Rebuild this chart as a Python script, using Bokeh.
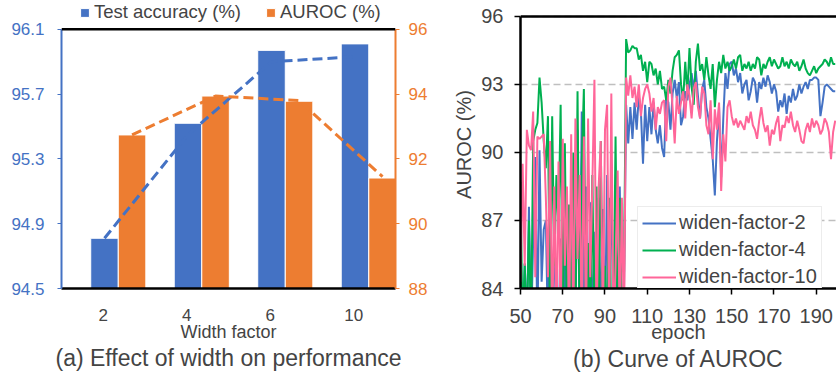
from bokeh.plotting import figure
from bokeh.models import (Range1d, LinearAxis, CategoricalAxis, Legend, LegendItem, FixedTicker,
                          PrintfTickFormatter, ColumnDataSource, Span)
from bokeh.transform import dodge
from bokeh.layouts import row
from bokeh.embed import file_html
from bokeh.resources import INLINE

FONT = "Liberation Sans"
BLUE = "#4472C4"
ORANGE = "#ED7D31"
GREEN = "#00B050"
PINK = "#FF6699"

# ---------------- data: panel (a) ----------------
width_factors = ["2", "4", "6", "10"]
test_accuracy = [94.81, 95.52, 95.97, 96.01]
auroc_bars = [92.74, 93.94, 93.78, 91.41]
acc_trend = [94.81, 95.45, 95.90, 95.93]
auroc_trend = [92.74, 93.94, 93.80, 91.45]
acc_ticks = [94.5, 94.9, 95.3, 95.7, 96.1]
auroc_ticks = [88, 90, 92, 94, 96]

# ---------------- data: panel (b) ----------------
epochs = list(range(50, 200))
wf2 = [84.5, 82, 85.1, 82, 87.6, 82, 86.2, 89.8, 82, 90.1,
       84.3, 86.6, 87.0, 82, 88.5, 82, 86.6, 82, 82, 86.2,
       82, 85.5, 82, 84.8, 82, 85.5, 82, 91.0, 82, 91.8,
       82, 88.5, 82, 87.8, 82, 86.5, 82, 88.0, 82, 87.5,
       82, 89.0, 82, 89.5, 82, 85.5, 82, 88.5, 82, 84.0,
       92.1, 90.4, 92.0, 90.6, 92.2, 91.0, 92.5, 91.8, 89.5, 92.1,
       90.5, 92.0, 90.8, 92.2, 91.0, 90.4, 91.2, 90.2, 89.8, 92.5,
       92.2, 91.0, 92.6, 93.2, 92.4, 93.1, 91.2, 91.6, 92.7, 92.3,
       93.0, 93.5, 92.8, 93.6, 92.5, 91.5, 92.8, 93.2, 92.0, 91.5,
       90.6, 89.7, 88.1, 90.5, 92.0, 88.9, 91.5, 93.5, 92.8, 93.9,
       94.0, 93.4, 93.7, 93.1, 93.5, 92.6, 93.0, 93.2, 92.3, 92.7,
       93.3, 93.1, 92.2, 93.1, 92.8, 93.3, 92.9, 93.4, 93.1, 92.6,
       93.0, 92.7, 91.8, 92.3, 92.0, 92.6, 91.7, 92.5, 92.2, 92.8,
       92.3, 92.5, 93.0, 92.6, 92.9, 93.1, 92.8, 93.2, 93.2, 93.3,
       93.3, 93.2, 91.6, 92.2, 92.9, 93.0, 92.9, 92.8, 92.7, 92.7]
wf4 = [88.7, 82, 85.1, 82, 87.0, 82, 90.5, 91.0, 91.3, 93.3,
       92.2, 90.5, 89.3, 91.6, 82, 91.6, 85.0, 89.0, 86.6, 92.1,
       82, 90.4, 82, 87.7, 82, 90.0, 82, 92.7, 82, 89.5,
       92.8, 82, 86.0, 82, 89.0, 82, 88.5, 82, 90.5, 82,
       85.0, 82, 88.0, 82, 82, 90.7, 82, 88.0, 82, 84.5,
       95.0, 94.4, 94.5, 94.7, 94.6, 94.6, 94.1, 94.3, 93.6, 94.0,
       93.1, 94.0, 93.9, 93.4, 93.7, 93.0, 93.6, 92.8, 92.9, 92.3,
       93.2, 92.6, 93.6, 94.2, 94.3, 94.5, 93.0, 92.3, 94.0, 92.6,
       94.6, 92.9, 92.1, 94.0, 94.8, 93.6, 93.9, 93.2, 94.2, 93.4,
       92.8, 93.9, 92.0, 93.2, 94.0, 93.5, 94.3, 93.7, 94.0, 93.6,
       93.8, 94.1, 93.7, 94.2, 94.3, 93.6, 93.9, 93.7, 94.0, 93.6,
       93.9, 93.7, 94.2, 94.1, 93.4, 93.9, 93.7, 94.0, 94.2, 93.8,
       94.1, 93.9, 93.7, 93.8, 94.2, 93.8, 94.0, 93.7, 94.1, 93.9,
       93.8, 94.0, 93.6, 93.8, 94.1, 93.7, 93.5, 93.4, 93.6, 93.8,
       93.5, 93.7, 93.8, 93.9, 94.1, 94.0, 93.8, 94.2, 93.9, 93.9]
wf10 = [84.3, 89.5, 85.0, 91.0, 90.3, 90.1, 91.8, 84.5, 90.7, 90.6,
        90.7, 90.8, 88.0, 84.5, 90.5, 82, 88.5, 82, 89.6, 82,
        90.6, 85.0, 88.5, 82, 90.8, 82, 91.5, 85.3, 89.0, 82,
        90.7, 82, 91.5, 84.5, 88.5, 93.2, 82, 88.5, 90.5, 82,
        91.0, 92.1, 82, 92.6, 82, 85.0, 89.2, 82, 88.0, 82,
        93.3, 92.5, 93.4, 92.4, 92.9, 92.0, 93.0, 91.6, 92.4, 92.8,
        93.0, 92.6, 91.8, 92.4, 91.0, 92.0, 91.7, 92.2, 92.3, 90.5,
        92.9, 93.3, 92.0, 90.4, 92.5, 91.7, 92.2, 92.7, 91.5, 93.0,
        92.5, 91.5, 92.8, 93.1, 92.0, 91.5, 92.9, 92.6, 91.2, 90.8,
        92.3, 89.7, 91.9, 91.0, 92.2, 88.3, 90.8, 89.6, 92.0, 92.3,
        91.6, 91.2, 91.5, 91.1, 91.4, 91.2, 91.0, 91.6, 91.3, 91.8,
        91.2, 91.0, 90.6, 91.4, 92.0, 91.3, 90.9, 91.2, 90.3, 91.0,
        90.8, 91.3, 91.6, 90.5, 91.2, 91.1, 91.6, 91.3, 91.8, 91.2,
        90.9, 91.4, 91.0, 90.5, 90.4, 91.0, 91.3, 90.9, 91.5, 91.1,
        91.4, 91.2, 90.8, 91.0, 91.5, 91.3, 90.9, 89.7, 90.9, 91.4]
epoch_ticks = [50, 70, 90, 110, 130, 150, 170, 190]
auroc_curve_ticks = [84, 87, 90, 93, 96]


def style_axis(ax, color, size, tick_out, standoff):
    ax.axis_line_color = color
    ax.major_tick_line_color = color
    ax.major_tick_out = tick_out
    ax.major_tick_in = 0
    ax.minor_tick_line_color = None
    ax.major_label_text_font = FONT
    ax.major_label_text_font_size = size
    ax.major_label_standoff = standoff
    ax.axis_label_text_font = FONT
    ax.axis_label_text_font_style = "normal"


def headroom(lo, hi, frame_px, box_px):
    # data value at the top of a frame that is taller than the plotted box
    return lo + (hi - lo) * frame_px / box_px


# both frames run from the top of the picture (y=0) down to y=290 (row aligns them);
# the black box top is drawn with a Span at the top tick
FRAME_H = 290.0

# ================= panel (a) =================
src_a = ColumnDataSource(dict(w=width_factors, acc=test_accuracy, auroc=auroc_bars,
                              acc_t=acc_trend, auroc_t=auroc_trend))
p1 = figure(x_range=width_factors,
            y_range=Range1d(acc_ticks[0], headroom(acc_ticks[0], acc_ticks[-1], FRAME_H, 261.0)),
            width=432, height=374, output_backend="svg", toolbar_location=None,
            min_border_left=61, min_border_right=37, min_border_top=0, min_border_bottom=84)
p1.x_range.range_padding = 0
p1.extra_y_ranges = {"auroc": Range1d(auroc_ticks[0],
                                      headroom(auroc_ticks[0], auroc_ticks[-1], FRAME_H, 261.0))}
p1.xgrid.visible = False
p1.ygrid.visible = False
p1.outline_line_color = None

b_acc = p1.vbar(x=dodge("w", 0.015, range=p1.x_range), top="acc", bottom=acc_ticks[0],
                width=0.33, source=src_a, fill_color=BLUE, line_color="white", line_width=1)
b_au = p1.vbar(x=dodge("w", 0.345, range=p1.x_range), top="auroc", bottom=auroc_ticks[0],
               width=0.33, source=src_a, fill_color=ORANGE, line_color="white", line_width=1,
               y_range_name="auroc")
p1.line(x=dodge("w", 0.015, range=p1.x_range), y="acc_t", source=src_a,
        line_color=BLUE, line_width=3, line_dash="10 5")
p1.line(x=dodge("w", 0.345, range=p1.x_range), y="auroc_t", source=src_a,
        line_color=ORANGE, line_width=3, line_dash="10 5", y_range_name="auroc")
p1.add_layout(Span(location=acc_ticks[-1], dimension="width", line_color="black", line_width=2.5))

ly = p1.yaxis[0]
ly.ticker = FixedTicker(ticks=acc_ticks)
ly.formatter = PrintfTickFormatter(format="%.1f")
ly.bounds = (acc_ticks[0], acc_ticks[-1])
style_axis(ly, BLUE, "17px", 4, 13)
ly.axis_line_width = 2
ly.major_label_text_color = BLUE

ry = LinearAxis(y_range_name="auroc", ticker=FixedTicker(ticks=auroc_ticks),
                formatter=PrintfTickFormatter(format="%d"))
ry.bounds = (auroc_ticks[0], auroc_ticks[-1])
style_axis(ry, ORANGE, "17px", 4, 9)
ry.axis_line_width = 2
ry.major_label_text_color = ORANGE
p1.add_layout(ry, "right")

bx = p1.xaxis[0]
style_axis(bx, "black", "17px", 0, 20)
bx.axis_line_width = 2.5
bx.major_tick_line_color = None
bx.axis_label = "Width factor"
bx.axis_label_text_font_size = "18px"
bx.axis_label_standoff = -2

t1 = CategoricalAxis()
style_axis(t1, None, "0px", 0, 0)
t1.major_label_text_alpha = 0
t1.axis_label = "(a) Effect of width on performance"
t1.axis_label_text_font_size = "23px"
t1.axis_label_standoff = 0
p1.add_layout(t1, "below")

leg1 = Legend(items=[LegendItem(label="Test accuracy (%)", renderers=[b_acc]),
                     LegendItem(label="AUROC (%)", renderers=[b_au])],
              orientation="horizontal", location=(18, 265),
              label_text_font=FONT, label_text_font_size="18.5px",
              glyph_width=11, glyph_height=11, label_standoff=4, spacing=24,
              padding=2, margin=0, border_line_color=None, background_fill_alpha=0,
              label_height=18)
p1.add_layout(leg1, "center")

# ================= panel (b) =================
src_b = ColumnDataSource(dict(e=epochs, wf2=wf2, wf4=wf4, wf10=wf10))
p2 = figure(x_range=Range1d(50, 199.6),
            y_range=Range1d(auroc_curve_ticks[0],
                            headroom(auroc_curve_ticks[0], auroc_curve_ticks[-1], FRAME_H, 274.0)),
            width=404, height=374, output_backend="svg", toolbar_location=None,
            min_border_left=88, min_border_right=0, min_border_top=0, min_border_bottom=84)
p2.outline_line_color = None
p2.xgrid.visible = False
p2.ygrid.ticker = FixedTicker(ticks=auroc_curve_ticks)
p2.ygrid.grid_line_color = "#BFBFBF"
p2.ygrid.grid_line_dash = "7 4"
p2.ygrid.grid_line_width = 1.5

l2 = p2.line("e", "wf2", source=src_b, line_color=BLUE, line_width=2)
l4 = p2.line("e", "wf4", source=src_b, line_color=GREEN, line_width=2)
l10 = p2.line("e", "wf10", source=src_b, line_color=PINK, line_width=2)
p2.add_layout(Span(location=auroc_curve_ticks[-1], dimension="width",
                   line_color="black", line_width=2.5))

xa = p2.xaxis[0]
xa.ticker = FixedTicker(ticks=epoch_ticks)
style_axis(xa, "black", "20px", 6, 14)
xa.axis_line_width = 2.5
xa.major_tick_line_width = 1.5
xa.axis_label = "epoch"
xa.axis_label_text_font_size = "20px"
xa.axis_label_standoff = -5

t2 = LinearAxis(ticker=FixedTicker(ticks=[]))
style_axis(t2, None, "0px", 0, 0)
t2.major_label_text_alpha = 0
t2.axis_label = "(b) Curve of AUROC"
t2.axis_label_text_font_size = "23px"
t2.axis_label_standoff = 0
p2.add_layout(t2, "below")

ya = p2.yaxis[0]
ya.ticker = FixedTicker(ticks=auroc_curve_ticks)
ya.bounds = (auroc_curve_ticks[0], auroc_curve_ticks[-1])
style_axis(ya, "black", "20px", 6, 11)
ya.axis_line_width = 2.5
ya.major_tick_line_width = 1.5
ya.axis_label = "AUROC (%)"
ya.axis_label_text_font_size = "20px"
ya.axis_label_standoff = 3

leg2 = Legend(items=[LegendItem(label="widen-factor-2", renderers=[l2]),
                     LegendItem(label="widen-factor-4", renderers=[l4]),
                     LegendItem(label="widen-factor-10", renderers=[l10])],
              location=(117, -5), label_text_font=FONT, label_text_font_size="20px",
              glyph_width=34, glyph_height=20, label_height=20, label_standoff=3,
              spacing=4, padding=4, margin=0,
              border_line_color="#D9D9D9", border_line_width=1.5,
              background_fill_color="white", background_fill_alpha=1)
p2.add_layout(leg2, "center")

layout = row(p1, p2, spacing=0)
open("out.html", "w").write(file_html(layout, INLINE))
